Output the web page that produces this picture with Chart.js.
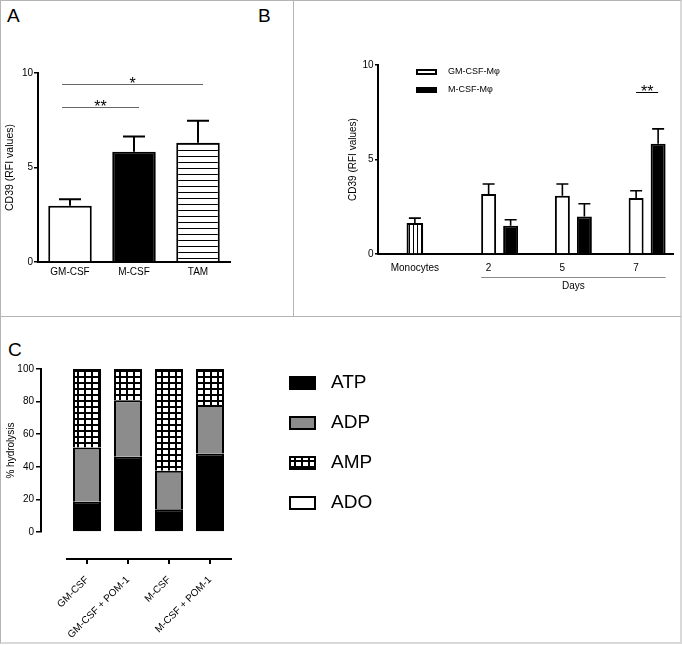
<!DOCTYPE html>
<html>
<head>
<meta charset="utf-8">
<script src="https://cdn.jsdelivr.net/npm/chart.js@4.4.1/dist/chart.umd.min.js"></script>
<style>
  html, body { margin: 0; padding: 0; background: #fff; }
  body { width: 682px; height: 645px; position: relative; overflow: hidden; font-family: "Liberation Sans", Arial, sans-serif; }
  .frame { position: absolute; left: 0; top: 0; width: 679px; height: 641px; border: 1px solid #b4b4b4; border-right: 2px solid #d9d9d9; border-bottom: 2px solid #d9d9d9; }
  .vline { position: absolute; left: 293px; top: 0; width: 1px; height: 316px; background: #b4b4b4; }
  .hline { position: absolute; left: 0; top: 316px; width: 681px; height: 1px; background: #b4b4b4; }
  .tag { position: absolute; font-size: 19px; line-height: 19px; color: #000; }
  canvas { position: absolute; }
</style>
</head>
<body>
<div class="frame"></div>
<div class="vline"></div>
<div class="hline"></div>
<div class="tag" style="left:7px;top:6px">A</div>
<div class="tag" style="left:258px;top:6px">B</div>
<div class="tag" style="left:8px;top:340px">C</div>
<canvas id="chartA" width="293" height="316" style="left:0;top:0"></canvas>
<canvas id="chartB" width="389" height="316" style="left:293px;top:0"></canvas>
<canvas id="chartC" width="682" height="329" style="left:0;top:316px"></canvas>
<script>
// --- datos panel A
const catsA = ['GM-CSF', 'M-CSF', 'TAM'];
const cd39A = [2.97, 5.83, 6.31];
const semA = [0.35, 0.81, 1.16];
const sigPairsA = [[0, 1], [0, 2]];
const sigLevelsA = [8.21, 9.40];
const sigMarksA = ['**', '*'];

// --- datos panel B
const catsB = ['Monocytes', '2', '5', '7'];
const monoB = [1.62, null, null, null];
const monoSemB = [0.28, null, null, null];
const gmB = [null, 3.17, 3.08, 2.96];
const gmSemB = [null, 0.53, 0.62, 0.39];
const mB = [null, 1.50, 1.99, 5.83];
const mSemB = [null, 0.31, 0.67, 0.79];
const sigLevelB = 8.56;
const sigMarkB = '**';
const daysTitleB = 'Days';

// --- datos panel C
const catsC = ['GM-CSF', 'GM-CSF + POM-1', 'M-CSF', 'M-CSF + POM-1'];
const atpC = [18.6, 46.2, 13.9, 48.1];
const adpC = [33.3, 34.6, 23.7, 29.8];
const ampC = [48.1, 19.2, 62.4, 22.1];
const adoC = [0, 0, 0, 0];

Chart.defaults.font.family = '"Liberation Sans", Arial, Helvetica, sans-serif';
Chart.defaults.color = '#000';
Chart.defaults.animation = false;

// Tramas para las barras (rayas y cuadricula)
function makePattern(w, h, paint) {
    const c = document.createElement('canvas');
    c.width = w;
    c.height = h;
    const g = c.getContext('2d');
    g.fillStyle = '#fff';
    g.fillRect(0, 0, w, h);
    g.fillStyle = '#000';
    paint(g);
    return g.createPattern(c, 'repeat');
}
const hStripes = makePattern(4, 6, g => g.fillRect(0, 0, 4, 1));
const vStripes = makePattern(4, 4, g => g.fillRect(0, 0, 1, 4));
const gridFill = makePattern(7, 6, g => { g.fillRect(0, 0, 7, 2); g.fillRect(0, 0, 2, 6); });

// Barras de error (solo hacia arriba, estilo GraphPad)
function errorBars(cfg) {
    return {
        id: 'errorBars',
        afterDatasetsDraw(chart) {
            const { ctx } = chart;
            const yScale = chart.scales.y;
            ctx.save();
            ctx.strokeStyle = '#000';
            ctx.lineWidth = cfg.lineWidth;
            chart.data.datasets.forEach((ds, di) => {
                if (!ds.errors) return;
                chart.getDatasetMeta(di).data.forEach((bar, i) => {
                    const v = ds.data[i], e = ds.errors[i];
                    if (v == null || e == null) return;
                    const yTop = yScale.getPixelForValue(v + e);
                    ctx.beginPath();
                    ctx.moveTo(bar.x, bar.y);
                    ctx.lineTo(bar.x, yTop);
                    ctx.moveTo(bar.x - cfg.cap / 2, yTop);
                    ctx.lineTo(bar.x + cfg.cap / 2, yTop);
                    ctx.stroke();
                });
            });
            ctx.restore();
        }
    };
}

// Lineas de significancia con asteriscos
function sigBrackets(cfg) {
    return {
        id: 'sigBrackets',
        afterDatasetsDraw(chart) {
            const { ctx } = chart;
            const yScale = chart.scales.y;
            ctx.save();
            ctx.strokeStyle = cfg.color;
            ctx.lineWidth = 1;
            ctx.fillStyle = '#000';
            ctx.font = '16px ' + Chart.defaults.font.family;
            ctx.textAlign = 'center';
            ctx.textBaseline = 'alphabetic';
            cfg.items.forEach(it => {
                const a = chart.getDatasetMeta(it.from[0]).data[it.from[1]];
                const b = chart.getDatasetMeta(it.to[0]).data[it.to[1]];
                const x1 = a.x - cfg.overhang[0];
                const x2 = b.x + cfg.overhang[1];
                const py = Math.round(yScale.getPixelForValue(it.level)) + 0.5;
                ctx.beginPath();
                ctx.moveTo(x1, py);
                ctx.lineTo(x2, py);
                ctx.stroke();
                ctx.fillText(it.text, (x1 + x2) / 2, py + 4);
            });
            ctx.restore();
        }
    };
}

// Leyenda dibujada dentro del panel
function innerLegend(cfg) {
    return {
        id: 'innerLegend',
        afterDraw(chart) {
            const { ctx } = chart;
            ctx.save();
            ctx.font = cfg.fontSize + 'px ' + Chart.defaults.font.family;
            ctx.textBaseline = 'middle';
            ctx.textAlign = 'left';
            let row = 0;
            chart.data.datasets.forEach(ds => {
                if (ds.hideInLegend) return;
                const cy = cfg.y + row * cfg.step;
                const top = cy - cfg.boxHeight / 2;
                ctx.fillStyle = ds.backgroundColor;
                ctx.fillRect(cfg.x, top, cfg.boxWidth, cfg.boxHeight);
                ctx.lineWidth = 2;
                ctx.strokeStyle = '#000';
                ctx.strokeRect(cfg.x + 1, top + 1, cfg.boxWidth - 2, cfg.boxHeight - 2);
                ctx.fillStyle = '#000';
                ctx.fillText(ds.label, cfg.textX, cy);
                row++;
            });
            ctx.restore();
        }
    };
}

// Corchete "Days" bajo el eje x del panel B
function groupBracket(cfg) {
    return {
        id: 'groupBracket',
        afterDraw(chart) {
            const { ctx, chartArea } = chart;
            const a = chart.getDatasetMeta(cfg.from[0]).data[cfg.from[1]];
            const b = chart.getDatasetMeta(cfg.to[0]).data[cfg.to[1]];
            const x1 = a.x - a.width / 2;
            const x2 = b.x + b.width / 2;
            const y = Math.round(chartArea.bottom + cfg.offset) + 0.5;
            ctx.save();
            ctx.strokeStyle = '#8a8a8a';
            ctx.lineWidth = 1;
            ctx.beginPath();
            ctx.moveTo(x1, y);
            ctx.lineTo(x2, y);
            ctx.stroke();
            ctx.fillStyle = '#000';
            ctx.font = '10px ' + Chart.defaults.font.family;
            ctx.textAlign = 'center';
            ctx.textBaseline = 'middle';
            ctx.fillText(cfg.text, (x1 + x2) / 2, y + 8.5);
            ctx.restore();
        }
    };
}

const noInteraction = { events: [], responsive: false };
// eje x sin marcas: drawTicks false para que no reserve el largo de la marca
const blackAxisX = { grid: { display: false, drawTicks: false }, border: { color: '#000', width: 2 } };

// ---------------- Panel A
new Chart(document.getElementById('chartA'), {
    type: 'bar',
    data: {
        labels: catsA,
        datasets: [{
            data: cd39A,
            errors: semA,
            backgroundColor: ['#fff', '#000', hStripes],
            borderColor: '#000',
            borderWidth: 2,
            barPercentage: 0.68,
            categoryPercentage: 1
        }]
    },
    options: {
        ...noInteraction,
        layout: { padding: { left: 0, top: 73, right: 63, bottom: 0 } },
        plugins: { legend: { display: false }, tooltip: { enabled: false } },
        scales: {
            x: {
                ...blackAxisX,
                ticks: { font: { size: 10 }, padding: 4 },
                afterFit: s => { s.height = 54; }
            },
            y: {
                min: 0, max: 10,
                ticks: { stepSize: 5, font: { size: 10 }, padding: 1 },
                grid: { drawOnChartArea: false, color: '#000', lineWidth: 1.5, tickLength: 4 },
                border: { color: '#000', width: 2 },
                title: { display: true, text: 'CD39 (RFI values)', font: { size: 10.5 }, padding: { top: 3.7, bottom: 0 } },
                afterFit: s => { s.width = 38; }
            }
        }
    },
    plugins: [
        errorBars({ lineWidth: 2, cap: 22 }),
        sigBrackets({
            color: '#666',
            overhang: [8, 5],
            items: sigPairsA.map((p, k) => ({ from: [0, p[0]], to: [0, p[1]], level: sigLevelsA[k], text: sigMarksA[k] }))
        })
    ]
});

// ---------------- Panel B
const day7 = catsB.indexOf('7');
new Chart(document.getElementById('chartB'), {
    type: 'bar',
    data: {
        labels: catsB,
        datasets: [
            { label: 'Monocytes', data: monoB, errors: monoSemB, backgroundColor: vStripes, barThickness: 16, skipNull: true, hideInLegend: true },
            { label: 'GM-CSF-Mφ', data: gmB, errors: gmSemB, backgroundColor: '#fff' },
            { label: 'M-CSF-Mφ', data: mB, errors: mSemB, backgroundColor: '#000' }
        ]
    },
    options: {
        ...noInteraction,
        datasets: { bar: { borderColor: '#000', borderWidth: 2, barPercentage: 0.68, categoryPercentage: 0.895 } },
        layout: { padding: { left: 50, top: 65, right: 9, bottom: 0 } },
        plugins: { legend: { display: false }, tooltip: { enabled: false } },
        scales: {
            x: {
                ...blackAxisX,
                ticks: { font: { size: 10 }, padding: 8.5 },
                afterFit: s => { s.height = 62; }
            },
            y: {
                min: 0, max: 10,
                ticks: { stepSize: 5, font: { size: 10 }, padding: 1.5 },
                grid: { drawOnChartArea: false, color: '#000', lineWidth: 1.5, tickLength: 3 },
                border: { color: '#000', width: 2 },
                title: { display: true, text: 'CD39 (RFI values)', font: { size: 10 }, padding: { top: 4.6, bottom: 0 } },
                afterFit: s => { s.width = 35; }
            }
        }
    },
    plugins: [
        errorBars({ lineWidth: 1.6, cap: 12 }),
        sigBrackets({
            color: '#000',
            overhang: [0, 0],
            items: [{ from: [1, day7], to: [2, day7], level: sigLevelB, text: sigMarkB }]
        }),
        innerLegend({ x: 123, y: 72, step: 18, boxWidth: 21, boxHeight: 6, textX: 155, fontSize: 9 }),
        groupBracket({ from: [1, 1], to: [2, day7], offset: 23, text: daysTitleB })
    ]
});

// ---------------- Panel C
new Chart(document.getElementById('chartC'), {
    type: 'bar',
    data: {
        labels: catsC,
        datasets: [
            { label: 'ATP', data: atpC, backgroundColor: '#000' },
            { label: 'ADP', data: adpC, backgroundColor: '#8c8c8c' },
            { label: 'AMP', data: ampC, backgroundColor: gridFill },
            { label: 'ADO', data: adoC, backgroundColor: '#fff' }
        ]
    },
    options: {
        ...noInteraction,
        datasets: { bar: { borderColor: '#000', borderWidth: 2, barPercentage: 0.683, categoryPercentage: 1, inflateAmount: 0 } },
        layout: { padding: { left: 0, top: 53, right: 451.5, bottom: 0 } },
        plugins: { legend: { display: false }, tooltip: { enabled: false } },
        scales: {
            x: {
                stacked: true,
                stack: 'cx', stackWeight: 164, weight: 1,
                grid: { offset: false, drawOnChartArea: false, color: '#000', lineWidth: 2, tickLength: 5 },
                border: { color: '#000', width: 2 },
                ticks: { minRotation: 45, maxRotation: 45, autoSkip: false, font: { size: 10 }, padding: 10 },
                afterFit: s => { s.height = 86; }
            },
            y: {
                stacked: true,
                min: 0, max: 100,
                stack: 'cy', stackWeight: 163, weight: 1,
                ticks: { stepSize: 20, font: { size: 10 }, padding: 2 },
                grid: { drawOnChartArea: false, color: '#000', lineWidth: 1.5, tickLength: 5 },
                border: { color: '#000', width: 2 },
                title: { display: true, text: '% hydrolysis', font: { size: 10 }, padding: { top: 5, bottom: 0 } },
                afterFit: s => { s.width = 41; }
            },
            // ejes vacios para separar los ejes del area de barras (estilo GraphPad)
            xPad: {
                type: 'linear', axis: 'x', position: 'bottom', display: false,
                stack: 'cx', stackWeight: 25.5, weight: 0,
                afterFit: s => { s.height = 86; }
            },
            yPad: {
                type: 'linear', axis: 'y', position: 'left', display: false,
                stack: 'cy', stackWeight: 27, weight: 0,
                afterFit: s => { s.width = 41; }
            }
        }
    },
    plugins: [
        innerLegend({ x: 289, y: 67, step: 40, boxWidth: 27, boxHeight: 14, textX: 331, fontSize: 19 })
    ]
});
</script>
</body>
</html>
